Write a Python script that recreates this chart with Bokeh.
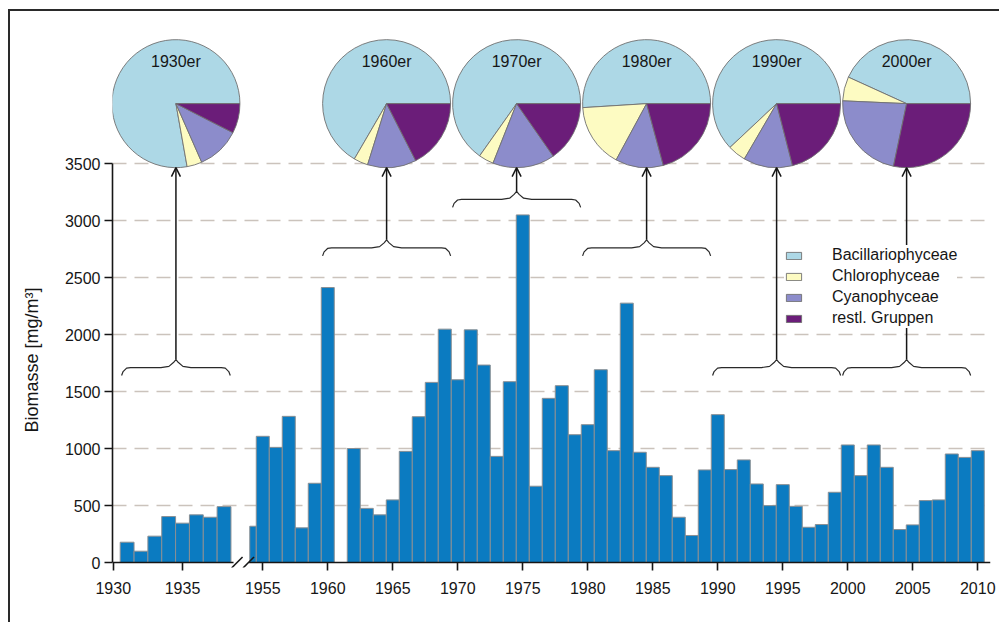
import math

from bokeh.core.properties import value
from bokeh.embed import file_html
from bokeh.models import (Arrow, ColumnDataSource, CustomJSTickFormatter, FixedTicker,
                          Legend, LegendItem, OpenHead, Range1d, Title)
from bokeh.plotting import figure
from bokeh.resources import INLINE

# ---------------------------------------------------------------- data
years_early = [1931, 1932, 1933, 1934, 1935, 1936, 1937, 1938]
biomass_early = [178, 99, 231, 403, 345, 418, 397, 490]

years_late = [1954, 1955, 1956, 1957, 1958, 1959, 1960,
              1962, 1963, 1964, 1965, 1966, 1967, 1968, 1969,
              1970, 1971, 1972, 1973, 1974, 1975, 1976, 1977, 1978, 1979,
              1980, 1981, 1982, 1983, 1984, 1985, 1986, 1987, 1988, 1989,
              1990, 1991, 1992, 1993, 1994, 1995, 1996, 1997, 1998, 1999,
              2000, 2001, 2002, 2003, 2004, 2005, 2006, 2007, 2008, 2009, 2010]
biomass_late = [318, 1107, 1010, 1282, 304, 695, 2412,
                1000, 475, 418, 549, 975, 1279, 1580, 2047,
                1603, 2041, 1732, 931, 1586, 3049, 669, 1440, 1551, 1121,
                1209, 1691, 981, 2275, 967, 835, 762, 397, 237, 812,
                1297, 815, 900, 689, 499, 683, 493, 309, 333, 616,
                1031, 762, 1031, 835, 289, 330, 543, 549, 952, 922, 981]

x_tick_years = [1930, 1935, 1955, 1960, 1965, 1970, 1975, 1980, 1985,
                1990, 1995, 2000, 2005, 2010]
y_ticks = [0, 500, 1000, 1500, 2000, 2500, 3000, 3500]

# decade composition (percent of biomass)
decade_labels = ["1930er", "1960er", "1970er", "1980er", "1990er", "2000er"]
decade_first = [1931, 1960, 1970, 1980, 1990, 2000]
decade_last = [1938, 1969, 1979, 1989, 1999, 2009]
brace_level = [1710, 2760, 3185, 2760, 1710, 1710]
group_names = ["Bacillariophyceae", "Chlorophyceae", "Cyanophyceae", "restl. Gruppen"]
share_bacillario = [77.8, 66.6, 65.2, 51.0, 62.0, 43.2]
share_chloro = [3.8, 3.6, 3.8, 16.1, 4.6, 6.1]
share_cyano = [10.9, 12.3, 15.7, 12.1, 12.4, 22.4]
share_rest = [7.5, 17.5, 15.3, 20.8, 21.0, 28.3]

# ---------------------------------------------------------------- layout
FONT = "Liberation Sans"
INK = "#161616"
RULE = "#2a2a2a"
GROUP_COLORS = ["#add8e6", "#fdfbc2", "#8c8ccb", "#6b1d79"]

FRAME_W, FRAME_H = 878, 556
LEFT, RIGHT, TOP, BOTTOM = 112, 9, 11, 55
PX_X = 13.0                 # pixels per year on the main segment
PX_Y = 399.0 / 3500.0       # pixels per mg/m3
X_START = 1943.44
X_END = X_START + FRAME_W / PX_X
Y_START = -5.0 / PX_Y
Y_END = Y_START + FRAME_H / PX_Y

# the 1930s are squeezed in front of a broken axis
EARLY_ORIGIN = 1943.5
EARLY_SCALE = 1.065
BREAK_YEAR = 1950
BREAK_LEFT, BREAK_RIGHT = 1952.75, 1953.95
LATE_START = 1954.0

PIE_R = 64                  # screen pixels
PIE_Y = 4025


def axis_pos(year):
    if year < BREAK_YEAR:
        return EARLY_ORIGIN + (year - 1930) * EARLY_SCALE
    return float(year)


def year_width(year):
    return EARLY_SCALE if year < BREAK_YEAR else 1.0


p = figure(width=LEFT + FRAME_W + RIGHT, height=TOP + FRAME_H + BOTTOM,
           x_range=Range1d(X_START, X_END), y_range=Range1d(Y_START, Y_END),
           output_backend="svg", toolbar_location=None,
           min_border_left=LEFT, min_border_right=RIGHT,
           min_border_top=TOP, min_border_bottom=BOTTOM,
           background_fill_color=None, border_fill_color=None)
p.outline_line_color = None
# thin page frame along the top and left edge, painted behind the transparent canvas
p.styles = {
    "background-color": "white",
    "background-image": f"linear-gradient({RULE}, {RULE}), linear-gradient({RULE}, {RULE})",
    "background-repeat": "no-repeat",
    "background-size": "2px 613px, 991px 2px",
    "background-position": "8px 9px, 8px 9px",
}

# ---------------------------------------------------------------- bars
bar_years = years_early + years_late
bar_values = biomass_early + biomass_late
lefts, rights = [], []
for yr in bar_years:
    c, h = axis_pos(yr), 0.5 * year_width(yr)
    lo = c - h
    if yr >= BREAK_YEAR:
        lo = max(lo, LATE_START)
    lefts.append(lo)
    rights.append(c + h)
bars = ColumnDataSource(dict(left=lefts, right=rights, top=bar_values))
p.quad(left="left", right="right", bottom=0, top="top", source=bars,
       fill_color="#0b7bc1", line_color="#8a8f94", line_width=1)

# broken x-axis line with the two break marks
p.segment(x0=[X_START, BREAK_RIGHT], x1=[BREAK_LEFT, X_END], y0=[0, 0], y1=[0, 0],
          line_color=INK, line_width=1.6)
dxm, dym = 5.5 / PX_X, 5.5 / PX_Y
marks = [BREAK_LEFT + 0.27, BREAK_RIGHT - 0.05]
p.segment(x0=[m - dxm for m in marks], y0=[-dym] * 2,
          x1=[m + dxm for m in marks], y1=[dym] * 2,
          line_color=INK, line_width=1.6)

# ---------------------------------------------------------------- braces
brace_xs, brace_ys, centers = [], [], []
for first, last, lvl in zip(decade_first, decade_last, brace_level):
    x0 = axis_pos(first) - 0.4 * year_width(first)
    x1 = axis_pos(last) + 0.45 * year_width(last)
    xc = 0.5 * (x0 + x1)
    centers.append(xc)
    shape = [(x0, 0, -8), (x0, 1.5, -4), (x0, 5, -0.6), (x0, 9, 0),
             (xc, -15, 0), (xc, -7, 1.2), (xc, -2.5, 5), (xc, 0, 8),
             (xc, 2.5, 5), (xc, 7, 1.2), (xc, 15, 0),
             (x1, -9, 0), (x1, -5, -0.6), (x1, -1.5, -4), (x1, 0, -8)]
    brace_xs.append([bx + dx / PX_X for bx, dx, _ in shape])
    brace_ys.append([lvl + dy / PX_Y for _, _, dy in shape])
p.multi_line(xs=brace_xs, ys=brace_ys, line_color=RULE, line_width=1.2)

# ---------------------------------------------------------------- pies
shares = [share_bacillario, share_chloro, share_cyano, share_rest]
cum = [0.0] * len(decade_labels)
pie_renderers = []
for name, color, share in zip(group_names, GROUP_COLORS, shares):
    starts, ends = [], []
    for i, s in enumerate(share):
        starts.append(cum[i] / 100 * 2 * math.pi)
        cum[i] += s
        ends.append(cum[i] / 100 * 2 * math.pi)
    src = ColumnDataSource(dict(x=centers, y=[PIE_Y] * len(centers), start=starts, end=ends))
    r = p.wedge(x="x", y="y", radius=PIE_R, radius_units="screen",
                start_angle="start", end_angle="end", source=src,
                fill_color=color, line_color="#707070", line_width=0.9)
    pie_renderers.append(r)

p.text(x=centers, y=[PIE_Y] * len(centers), text=decade_labels, y_offset=-42,
       text_align="center", text_baseline="middle", text_color=INK,
       text_font=value(FONT), text_font_size="16px")

# ---------------------------------------------------------------- arrows
arrow_top = PIE_Y - PIE_R / PX_Y


def add_arrow(i):
    p.add_layout(Arrow(end=OpenHead(size=9, line_width=1.5, line_color=INK),
                       x_start=centers[i], y_start=brace_level[i] + 8 / PX_Y,
                       x_end=centers[i], y_end=arrow_top,
                       line_color=INK, line_width=1.5))


legend_over = [5]        # arrows that run behind the legend box
for i in range(len(decade_labels)):
    if i in legend_over:
        add_arrow(i)

legend = Legend(items=[LegendItem(label=n, renderers=[r]) for n, r in zip(group_names, pie_renderers)],
                location=(672, 239), padding=10, margin=0, spacing=1,
                glyph_width=19, glyph_height=9, label_height=20, label_standoff=29,
                label_text_font=FONT, label_text_font_size="16px", label_text_color=INK,
                background_fill_color="white", background_fill_alpha=1.0,
                border_line_color=None)
p.add_layout(legend)

for i in range(len(decade_labels)):
    if i not in legend_over:
        add_arrow(i)

# ---------------------------------------------------------------- axes & grid
p.xgrid.visible = False
p.ygrid.ticker = FixedTicker(ticks=y_ticks[1:])
p.ygrid.grid_line_color = "#cbc3bc"
p.ygrid.grid_line_dash = "14 8"
p.ygrid.grid_line_width = 1.3

xa = p.xaxis[0]
xa.ticker = FixedTicker(ticks=[axis_pos(y) for y in x_tick_years])
xa.formatter = CustomJSTickFormatter(
    args=dict(split=BREAK_YEAR, origin=EARLY_ORIGIN, scale=EARLY_SCALE),
    code="return tick < split ? String(Math.round(1930 + (tick - origin) / scale)) "
         ": String(Math.round(tick));")
xa.axis_line_color = None
xa.major_tick_in = 5
xa.major_tick_out = 3
xa.major_tick_line_width = 1.6
xa.major_tick_line_color = INK
xa.minor_tick_line_color = None
xa.major_label_standoff = 11

ya = p.yaxis[0]
ya.ticker = FixedTicker(ticks=y_ticks)
ya.bounds = (0, 3500)
ya.axis_line_width = 1.6
ya.axis_line_color = INK
ya.major_tick_in = 0
ya.major_tick_out = 8
ya.major_tick_line_width = 1.6
ya.major_tick_line_color = INK
ya.minor_tick_line_color = None
ya.major_label_standoff = 4

for ax in (xa, ya):
    ax.major_label_text_font = FONT
    ax.major_label_text_font_size = "16px"
    ax.major_label_text_color = INK

# y-axis title, placed along the 0-3500 span of the axis
p.add_layout(Title(text="Biomasse [mg/m³]", align="left", offset=135,
                   vertical_align="middle", standoff=38,
                   text_font=FONT, text_font_size="18px", text_font_style="normal",
                   text_color=INK), "left")

open("out.html", "w").write(file_html(p, INLINE))
